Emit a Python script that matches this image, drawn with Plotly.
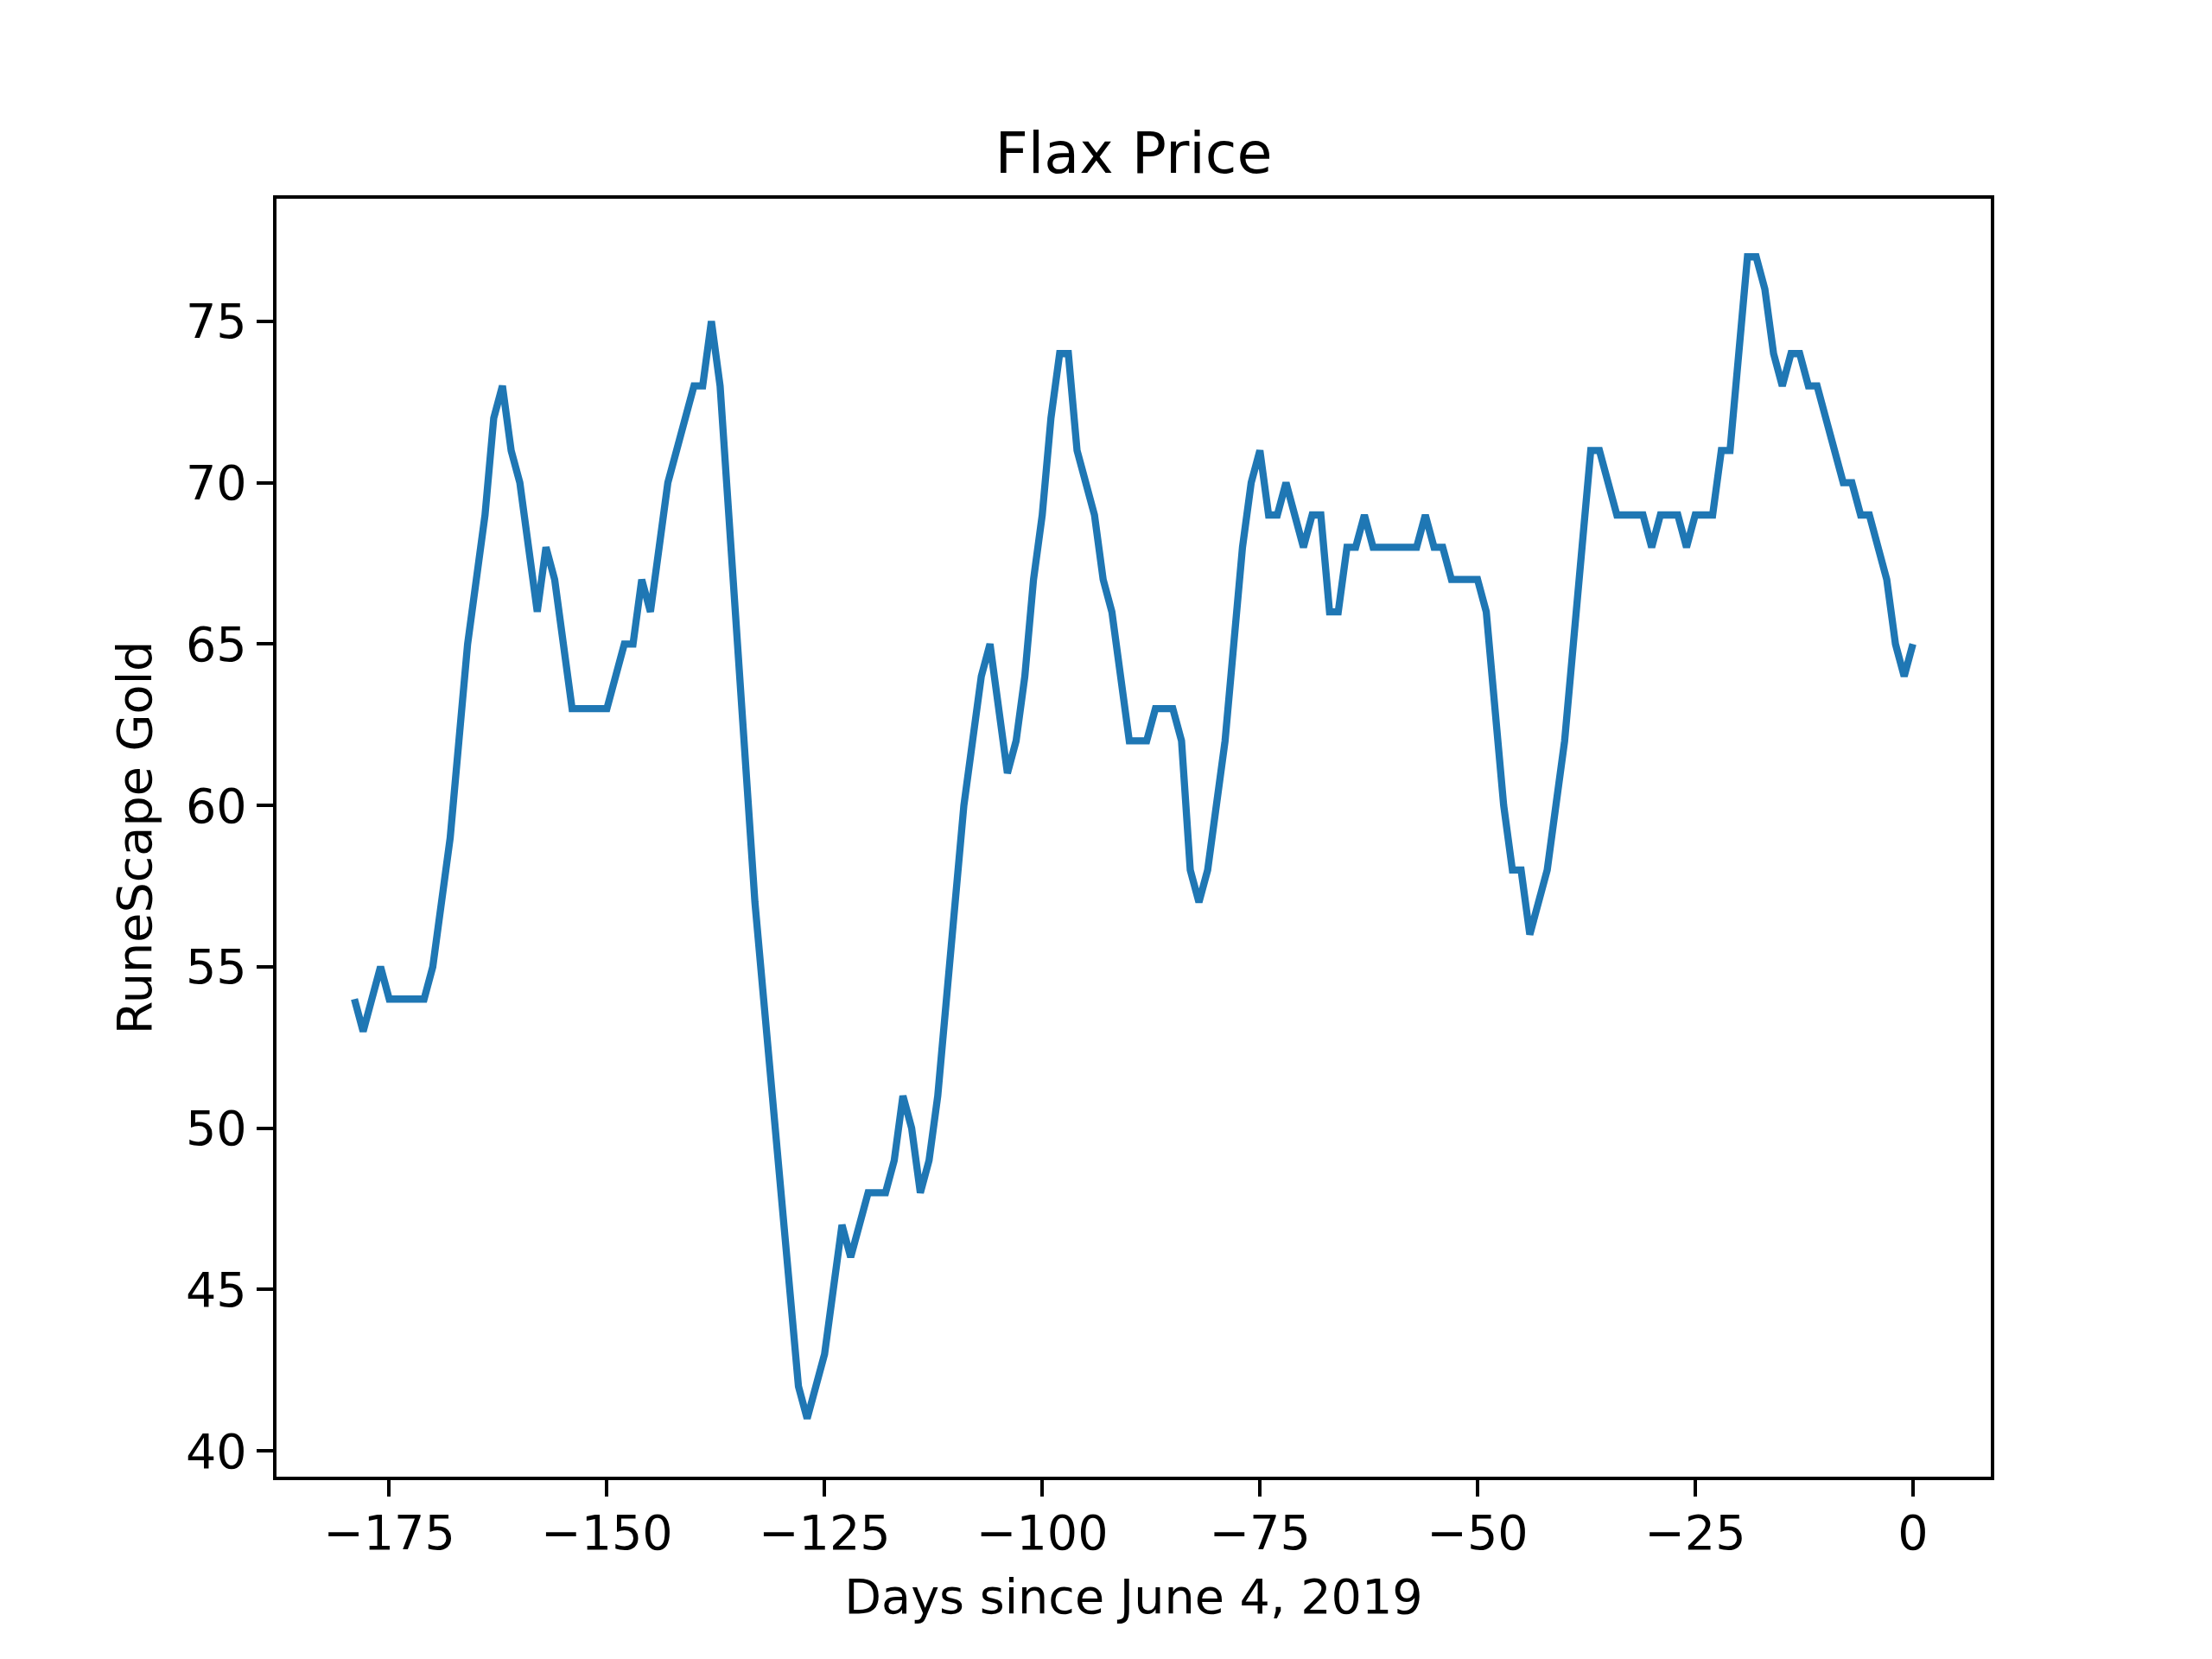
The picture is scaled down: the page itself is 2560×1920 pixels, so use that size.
import plotly.graph_objects as go

days = list(range(-179, 1))
prices = [
    54, 53, 54, 55, 54, 54, 54, 54, 54, 55,   # -179..-170
    57, 59, 62, 65, 67, 69, 72, 73, 71, 70,   # -169..-160
    68, 66, 68, 67, 65, 63, 63, 63, 63, 63,   # -159..-150
    64, 65, 65, 67, 66, 68, 70, 71, 72, 73,   # -149..-140
    73, 75, 73, 69, 65, 61, 57, 54, 51, 48,   # -139..-130
    45, 42, 41, 42, 43, 45, 47, 46, 47, 48,   # -129..-120
    48, 48, 49, 51, 50, 48, 49, 51, 54, 57,   # -119..-110
    60, 62, 64, 65, 63, 61, 62, 64, 67, 69,   # -109..-100
    72, 74, 74, 71, 70, 69, 67, 66, 64, 62,   # -99..-90
    62, 62, 63, 63, 63, 62, 58, 57, 58, 60,   # -89..-80
    62, 65, 68, 70, 71, 69, 69, 70, 69, 68,   # -79..-70
    69, 69, 66, 66, 68, 68, 69, 68, 68, 68,   # -69..-60
    68, 68, 68, 69, 68, 68, 67, 67, 67, 67,   # -59..-50
    66, 63, 60, 58, 58, 56, 57, 58, 60, 62,   # -49..-40
    65, 68, 71, 71, 70, 69, 69, 69, 69, 68,   # -39..-30
    69, 69, 69, 68, 69, 69, 69, 71, 71, 74,   # -29..-20
    77, 77, 76, 74, 73, 74, 74, 73, 73, 72,   # -19..-10
    71, 70, 70, 69, 69, 68, 67, 65, 64, 65,   # -9..0
]

x_tick_vals = [-175, -150, -125, -100, -75, -50, -25, 0]
x_tick_text = ["\u2212175", "\u2212150", "\u2212125", "\u2212100", "\u221275", "\u221250", "\u221225", "0"]
y_tick_vals = [40, 45, 50, 55, 60, 65, 70, 75]
y_tick_text = ["40", "45", "50", "55", "60", "65", "70", "75"]

title_text = "Flax Price"
x_label = "Days since June 4, 2019"
y_label = "RuneScape Gold"

FONT = "DejaVu Sans"
FS = 55.6

fig = go.Figure()
fig.add_trace(go.Scatter(
    x=days, y=prices, mode="lines",
    line=dict(color="#1f77b4", width=8.3),
    showlegend=False,
))

pad_x = (max(days) - min(days)) * 0.05
pad_y = (max(prices) - min(prices)) * 0.05

axis_common = dict(
    showgrid=False, zeroline=False,
    showline=True, mirror=True, linecolor="black", linewidth=4.4,
    ticks="outside", ticklen=19, tickwidth=4.4, tickcolor="black",
    tickfont=dict(family=FONT, size=FS, color="black"),
)

fig.update_layout(
    width=2552, height=1912,
    margin=dict(l=312, r=256, t=222, b=211, autoexpand=False),
    paper_bgcolor="white", plot_bgcolor="white",
    font=dict(family=FONT, size=FS, color="black"),
    title=dict(text=title_text, x=0.5, xref="paper", xanchor="center",
               y=1.0, yref="paper", yanchor="bottom", pad=dict(b=30),
               font=dict(family=FONT, size=66.7, color="black")),
    xaxis=dict(range=[min(days) - pad_x, max(days) + pad_x],
               tickvals=x_tick_vals, ticktext=x_tick_text,
               ticklabelstandoff=-6,
               title=dict(text=x_label, standoff=24,
                          font=dict(family=FONT, size=FS, color="black")),
               **axis_common),
    yaxis=dict(range=[min(prices) - pad_y, max(prices) + pad_y],
               tickvals=y_tick_vals, ticktext=y_tick_text,
               title=dict(text=y_label, standoff=22,
                          font=dict(family=FONT, size=FS, color="black")),
               **axis_common),
)

fig.write_html("out.html")
